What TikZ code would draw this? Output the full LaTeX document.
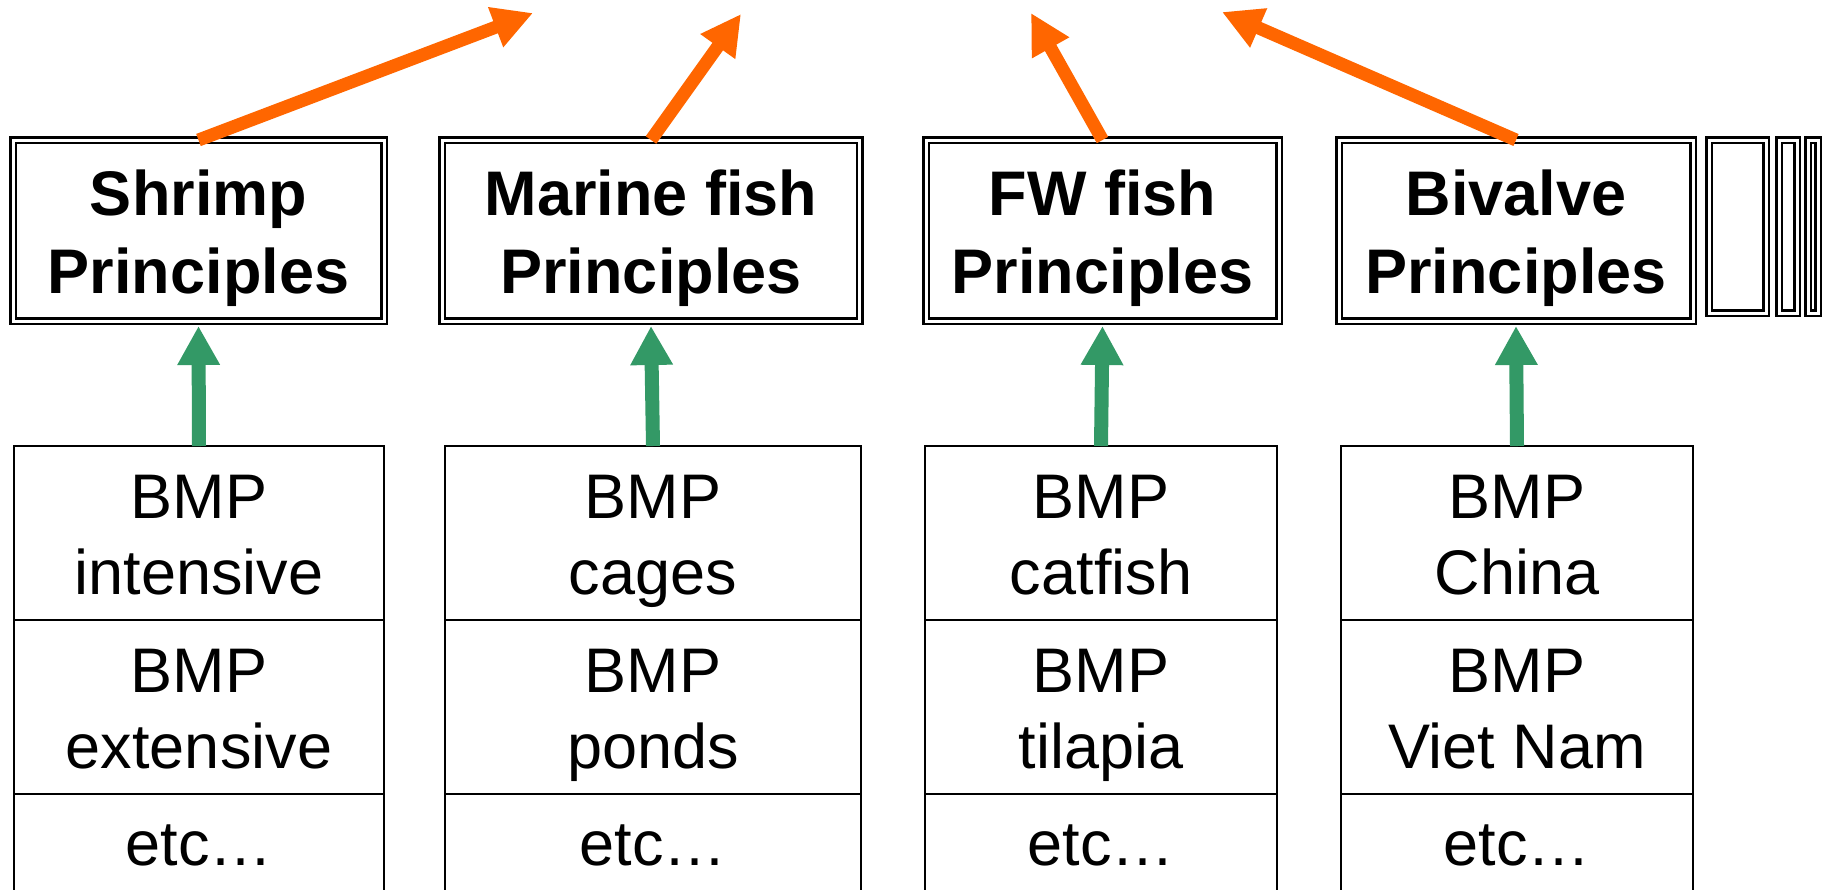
\documentclass[tikz,border=0pt]{standalone}
\usepackage{fontspec}
\setmainfont{Liberation Sans}
\usetikzlibrary{arrows.meta,calc}
\definecolor{arrOrange}{RGB}{255,102,0}
\definecolor{arrGreen}{RGB}{51,153,102}
\newcommand{\hiStrut}{\rule{0pt}{31.5pt}}
\newcommand{\loStrut}{\rule[-8pt]{0pt}{8pt}}
\newcommand{\etcText}{\rule{0pt}{24pt}etc…\rule[-40pt]{0pt}{40pt}}
\begin{document}
\begin{tikzpicture}[x=0.5pt,y=-0.5pt,
  princbox/.style={draw, double, line width=1.25pt, double distance=1.5pt, inner sep=0pt, outer sep=0pt,
    minimum height=90.5pt, align=center, font=\bfseries\fontsize{31.5pt}{39pt}\selectfont},
  sparebox/.style={draw, double, line width=1.25pt, double distance=1.5pt, inner sep=0pt, outer sep=0pt,
    minimum height=86.5pt},
  bmpcell/.style={draw, line width=1pt, inner sep=0pt, outer sep=0pt, minimum height=87pt,
    align=center, font=\fontsize{31.5pt}{38pt}\selectfont},
  greenarrow/.style={draw=arrGreen, fill=arrGreen, line width=7pt, -{Triangle[length=19.5pt,width=20pt]}},
  orangearrow/.style={draw=arrOrange, fill=arrOrange, line width=6.5pt, -{Triangle[length=20pt,width=20pt]}}]
\useasboundingbox (0,0) rectangle (1826,889);
\clip (0,0) rectangle (1826,889);

% principle boxes
\node[princbox, minimum width=185.5pt] (p1) at (198.5,230.5) {\hiStrut Shrimp\\Principles\loStrut};
\node[princbox, minimum width=208.75pt] (p2) at (651,230.5) {\hiStrut Marine fish\\Principles\loStrut};
\node[princbox, minimum width=176.5pt] (p3) at (1102.5,230.5) {\hiStrut FW fish\\Principles\loStrut};
\node[princbox, minimum width=177pt] (p4) at (1516,230.5) {\hiStrut Bivalve\\Principles\loStrut};

% partly visible boxes at the right
\node[sparebox, minimum width=28.5pt] (q1) at (1737.5,226.5) {};
\node[sparebox, minimum width=9pt] (q2) at (1788,226.5) {};
\node[sparebox, minimum width=5pt] (q3) at (1813,226.5) {};

% BMP stacks
\node[bmpcell, minimum width=185pt] (s1a) at (199,533) {\hiStrut BMP\\intensive\loStrut};
\node[bmpcell, minimum width=185pt] (s1b) at (199,707) {\hiStrut BMP\\extensive\loStrut};
\node[bmpcell, minimum width=185pt] (s1c) at (199,881) {\etcText};

\node[bmpcell, minimum width=208pt] (s2a) at (653,533) {\hiStrut BMP\\cages\loStrut};
\node[bmpcell, minimum width=208pt] (s2b) at (653,707) {\hiStrut BMP\\ponds\loStrut};
\node[bmpcell, minimum width=208pt] (s2c) at (653,881) {\etcText};

\node[bmpcell, minimum width=176pt] (s3a) at (1101,533) {\hiStrut BMP\\catfish\loStrut};
\node[bmpcell, minimum width=176pt] (s3b) at (1101,707) {\hiStrut BMP\\tilapia\loStrut};
\node[bmpcell, minimum width=176pt] (s3c) at (1101,881) {\etcText};

\node[bmpcell, minimum width=176pt] (s4a) at (1517,533) {\hiStrut BMP\\China\loStrut};
\node[bmpcell, minimum width=176pt] (s4b) at (1517,707) {\hiStrut BMP\\Viet Nam\loStrut};
\node[bmpcell, minimum width=176pt] (s4c) at (1517,881) {\etcText};

% green arrows
\draw[greenarrow] (s1a.north) -- ($(p1.south)+(0,5)$);
\draw[greenarrow] (s2a.north) -- ($(p2.south)+(0,5)$);
\draw[greenarrow] (s3a.north) -- ($(p3.south)+(0,5)$);
\draw[greenarrow] (s4a.north) -- ($(p4.south)+(0,5)$);

% orange arrows
\coordinate (o1) at (533,13);
\coordinate (o2) at (741,14);
\coordinate (o3) at (1031,13);
\coordinate (o4) at (1222,12);
\draw[orangearrow] (p1.north) -- (o1);
\draw[orangearrow] (p2.north) -- (o2);
\draw[orangearrow] (p3.north) -- (o3);
\draw[orangearrow] (p4.north) -- (o4);
\end{tikzpicture}
\end{document}
